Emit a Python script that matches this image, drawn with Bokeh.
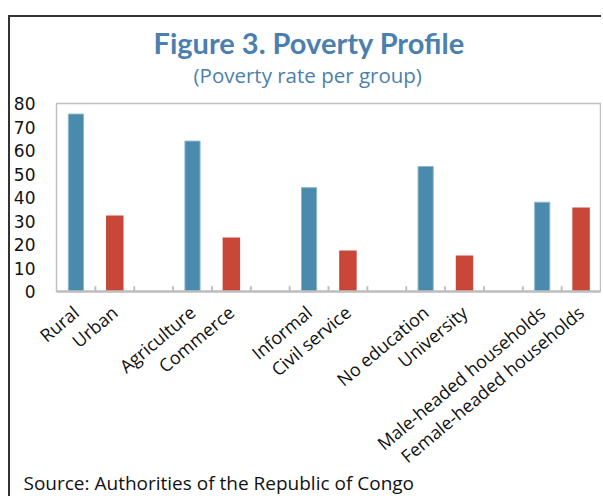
from bokeh.plotting import figure
from bokeh.models import ColumnDataSource, FactorRange, Range1d, Title, FixedTicker
from bokeh.embed import file_html
from bokeh.resources import INLINE
import math

# ---- data ----
categories = ["Rural", "Urban", " ", "Agriculture", "Commerce", "  ",
              "Informal", "Civil service", "   ", "No education", "University", "    ",
              "Male-headed households", "Female-headed households"]
group_a = ["Rural", "Agriculture", "Informal", "No education", "Male-headed households"]
values_a = [75.5, 64.0, 44.2, 53.2, 38.0]
group_b = ["Urban", "Commerce", "Civil service", "University", "Female-headed households"]
values_b = [32.3, 23.0, 17.5, 15.3, 35.7]
y_ticks = [0, 10, 20, 30, 40, 50, 60, 70, 80]

title_text = "Figure 3. Poverty Profile"
subtitle_text = "(Poverty rate per group)"
source_text = "Source: Authorities of the Republic of Congo"

BLUE = "#4a8aad"
RED = "#c84738"
TITLE_C = "#4b7fb0"
GREY = "#bfbfbf"

# page offset of the canvas (outer border at x=8, y=15, 2px wide)
OX, OY = 10, 17
W, H = 603 - OX, 498 - OY
FL, FR, FT, FB = 55 - OX, 600 - OX, 103 - OY, 291 - OY   # frame edges in canvas px

p = figure(width=W, height=H, output_backend="svg", toolbar_location=None,
           x_range=FactorRange(*categories, range_padding=0, factor_padding=0),
           y_range=Range1d(0, 80),
           min_border_left=FL, min_border_right=W - FR,
           min_border_top=FT, min_border_bottom=H - FB)
p.styles = {"border-left": "2px solid #333333", "border-top": "2px solid #333333",
            "margin-left": "8px", "margin-top": "15px"}

p.background_fill_color = "white"
p.border_fill_color = "white"
p.outline_line_color = GREY
p.outline_line_width = 1.5
p.xgrid.visible = False
p.ygrid.visible = False

src_a = ColumnDataSource(dict(x=group_a, top=values_a))
src_b = ColumnDataSource(dict(x=group_b, top=values_b))
p.vbar(x="x", top="top", bottom=0, width=0.39, source=src_a,
       fill_color=BLUE, line_color="#8db6cc", line_width=1)
p.vbar(x="x", top="top", bottom=0, width=0.45, source=src_b,
       fill_color=RED, line_color=RED, line_width=0)

tick_x = [(c, 0.5) for c in categories[:-1]]
p.segment(x0=tick_x, y0=[0] * len(tick_x), x1=tick_x, y1=[2.2] * len(tick_x),
          line_color=GREY, line_width=2)

xa = p.xaxis[0]
xa.axis_line_color = GREY
xa.axis_line_width = 2.5
xa.major_tick_line_color = None
xa.minor_tick_line_color = None
xa.major_tick_out = 0
xa.major_tick_in = 0
xa.major_label_orientation = math.radians(40)
xa.major_label_text_font = "Open Sans"
xa.major_label_text_font_size = "18px"
xa.major_label_text_color = "#111111"
xa.major_label_standoff = 18

ya = p.yaxis[0]
ya.ticker = FixedTicker(ticks=y_ticks)
ya.axis_line_color = None
ya.major_tick_line_color = None
ya.minor_tick_line_color = None
ya.major_tick_out = 0
ya.major_tick_in = 0
ya.major_label_standoff = 21
ya.major_label_text_font = "DejaVu Sans"
ya.major_label_text_font_size = "17px"
ya.major_label_text_color = "#111111"

p.add_layout(Title(text=subtitle_text, align="left", offset=137,
                   text_font="Open Sans", text_font_style="normal", text_font_size="20.5px",
                   text_color=TITLE_C, standoff=30), "above")
p.add_layout(Title(text=title_text, align="left", offset=97,
                   text_font="Lato", text_font_style="bold", text_font_size="29px",
                   text_color=TITLE_C, standoff=-33), "above")
p.add_layout(Title(text=source_text, align="left", offset=-33, vertical_align="top",
                   text_font="Open Sans", text_font_style="normal", text_font_size="19px",
                   text_color="#111111", standoff=-22), "below")

open("out.html", "w").write(file_html(p, INLINE))
